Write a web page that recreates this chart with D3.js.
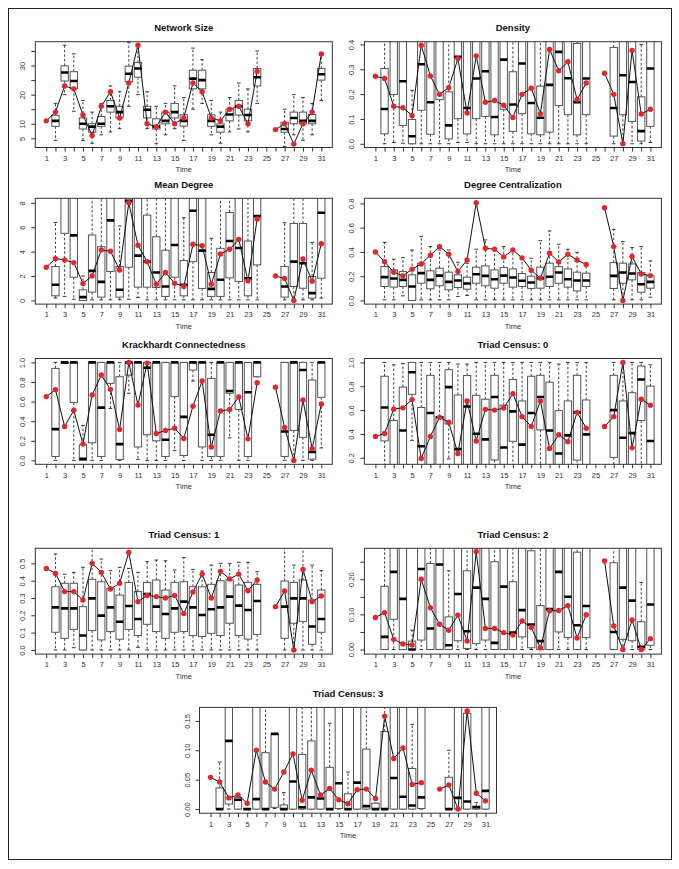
<!DOCTYPE html>
<html><head><meta charset="utf-8">
<script src="https://cdn.jsdelivr.net/npm/d3@7"></script>
<style>body{margin:0;background:#fff}svg{display:block}text{font-family:"Liberation Sans",Arial,Helvetica,sans-serif}</style>
</head><body><svg id="c" width="679" height="869"></svg>
<script>
// ---------- data ----------
const timeTicks = d3.range(1, 32);
const timeLabels = [1,3,5,7,9,11,13,15,17,19,21,23,25,27,29,31];
const boxTimes = [2,3,4,5,6,7,8,9,10,11,12,13,14,15,16,17,18,19,20,21,22,23,24,27,28,29,30,31];
const pointTimes = [1,2,3,4,5,6,7,8,9,10,11,12,13,14,15,16,17,18,19,20,21,22,23,24,26,27,28,29,30,31];

// boxes: [lower whisker, q1, median, q3, upper whisker]
const netSizeBoxes = [[4.3,9.1,11,12.9,17],[20,24.7,27.6,29.9,37],[14.3,22,24.7,27.9,34],[4.3,8.2,10,12,18],[3.3,7.1,9,10,14],[6.2,9.1,10,12.5,17],[7.2,14,16,18,23],[8.3,12,14,16,21],[16,24.4,27.2,29.8,38],[20,26,29,31,37],[8.3,12,14.8,16,21],[3.1,8.2,9,11.7,16],[6.2,10,11,14,17],[8.3,12,14,17,23],[4.3,9.2,11,13.1,19],[15,22,25.5,28.4,36],[17,22,25,28.4,32],[6.2,9.1,11,13.1,18],[3.3,7.1,9,10,14],[7.2,11,13.2,15,19],[8.2,13,16,18,24],[7.2,11,13,15,22],[17,23,26,29,35],[2.2,7.1,8.2,10.5,15],[6.2,10,12,14,20],[4.3,10,11,14,19],[6.2,10,11,13.2,17],[18,25,27,29,34]];
const netSizePoints = [11,14,23,22,13,6,16,21,12,24,37,10,9,14,10,12,24,21,12,11,15,16,10,28,8,10,3,10,14,34];

const densityBoxes = [[0,0.04,0.14,0.303,0.6],[0.005,0.198,0.45,0.5,0.6],[0.002,0.074,0.252,0.5,0.6],[0,0,0.03,0.098,0.215],[0,0.135,0.32,0.5,0.6],[0,0.038,0.167,0.5,0.6],[0,0.178,0.45,0.5,0.6],[0,0.02,0.074,0.209,0.6],[0.005,0.101,0.35,0.5,0.6],[0.005,0.04,0.144,0.5,0.6],[0,0.101,0.263,0.5,0.6],[0,0.11,0.292,0.5,0.6],[0,0.036,0.108,0.5,0.6],[0,0.139,0.339,0.5,0.6],[0,0.05,0.158,0.29,0.6],[0,0.121,0.323,0.5,0.6],[0,0.04,0.164,0.5,0.6],[0,0.036,0.105,0.232,0.6],[0,0.047,0.237,0.5,0.6],[0,0.154,0.37,0.5,0.6],[0,0.117,0.264,0.5,0.6],[0,0.036,0.167,0.404,0.6],[0,0.117,0.263,0.5,0.6],[0,0.031,0.144,0.388,0.6],[0,0.117,0.276,0.5,0.6],[0,0.09,0.249,0.5,0.6],[0,0.011,0.051,0.189,0.4],[0.005,0.07,0.303,0.5,0.6]];
const densityPoints = [0.272,0.263,0.151,0.145,0.114,0.397,0.273,0.199,0.226,0.343,0.124,0.354,0.167,0.174,0.155,0.106,0.199,0.224,0.121,0.38,0.294,0.33,0.178,0.245,0.284,0.199,0,0.376,0.12,0.139];

const meanDegBoxes = [[0.2,0.38,1.28,2.78,6.39],[0.33,5.5,9,10,12],[0.1,1.9,5.33,10,12],[0,0,0.27,0.87,2.0],[0.05,0.68,2.42,5.36,12],[0.05,0.27,1.52,4.41,12],[0.05,2.37,6.56,10,12],[0.05,0.27,0.87,2.78,6.1],[0.1,2.72,8.16,10,12],[0.24,1.09,3.67,10,12],[0.05,1.09,3.18,6.99,12],[0.05,1.06,2.29,5.22,12],[0.05,0.33,1.14,4.11,12],[0.05,1.9,4.54,10,12],[0.05,0.38,1.28,3.27,6.78],[0.05,3.18,7.35,10,12],[0.05,0.98,4.08,10,12],[0.05,0.33,0.95,2.29,5.09],[0.05,0.33,1.69,4.27,12],[0.05,1.85,4.87,7.21,12],[0.05,1.55,4.3,10,12],[0.05,0.38,1.82,4.87,12],[0.05,2.91,6.91,10,12],[0.05,0.27,1.14,2.78,6.37],[0.05,1.14,3.18,6.31,12],[0.05,1.0,3.05,6.31,12],[0.05,0.19,0.6,1.96,4.76],[0.19,1.82,7.18,10,12]];
const meanDegPoints = [2.72,3.43,3.32,3.1,1.39,2.01,4.14,4.03,2.5,8.0,4.52,3.18,1.33,2.29,1.41,1.14,4.6,4.49,1.33,3.81,4.19,5.0,1.6,6.67,2.01,1.8,0,3.4,1.58,4.65];

const degCentBoxes = [[0.005,0.115,0.192,0.279,0.479],[0.005,0.11,0.181,0.252,0.34],[0.038,0.115,0.17,0.238,0.353],[0,0,0.115,0.211,0.416],[0.005,0.142,0.225,0.307,0.526],[0.005,0.096,0.17,0.244,0.444],[0.005,0.121,0.205,0.266,0.416],[0.005,0.088,0.153,0.233,0.416],[0.033,0.107,0.164,0.211,0.315],[0.041,0.093,0.14,0.192,0.307],[0.005,0.142,0.216,0.274,0.422],[0.005,0.121,0.203,0.285,0.499],[0.005,0.101,0.175,0.252,0.43],[0.005,0.142,0.205,0.271,0.444],[0.005,0.11,0.189,0.26,0.422],[0.005,0.115,0.162,0.222,0.362],[0.005,0.099,0.148,0.2,0.348],[0.005,0.101,0.184,0.274,0.493],[0.005,0.115,0.195,0.307,0.573],[0.005,0.142,0.23,0.279,0.463],[0.005,0.11,0.175,0.26,0.422],[0.005,0.079,0.164,0.233,0.397],[0.005,0.115,0.164,0.225,0.307],[0.005,0.099,0.203,0.312,0.586],[0.005,0.142,0.23,0.307,0.485],[0.005,0.17,0.222,0.301,0.436],[0.005,0.068,0.134,0.23,0.444],[0.027,0.101,0.153,0.203,0.326]];
const degCentPoints = [0.40,0.32,0.233,0.203,0.258,0.301,0.373,0.444,0.381,0.238,0.334,0.805,0.43,0.422,0.359,0.416,0.351,0.249,0.184,0.389,0.318,0.381,0.334,0.296,0.764,0.444,0,0.362,0.219,0.205];

const krackBoxes = [[0,0.04,0.319,0.939,1],[0.99,0.99,1,1,1],[0,0.59,1,1,1],[0,0,0.017,0.16,0.357],[0,0.18,1,1,1],[0,0.04,0.539,1,1],[0.53,0.786,1,1,1],[0,0.01,0.166,0.854,1],[0.685,0.871,1,1,1],[0.01,0.137,1,1,1],[0,0.262,0.946,1,1],[0,0.2,1,1,1],[0,0.04,0.21,1,1],[0.1,0.651,1,1,1],[0,0.05,0.444,1,1],[0.81,0.922,1,1,1],[0,0.137,1,1,1],[0,0.04,0.261,0.837,1],[0,0.04,1,1,1],[0.23,0.685,0.708,1,1],[0,0.52,1,1,1],[0,0.04,0.695,1,1],[0.854,0.854,1,1,1],[0,0.04,0.295,1,1],[0,0.306,1,1,1],[0,0.235,0.922,1,1],[0,0.013,0.086,0.82,1],[0.127,0.644,1,1,1]];
const krackPoints = [0.651,0.722,0.346,0.512,0.166,0.668,0.871,0.725,0.315,1.0,0.566,0.993,0.275,0.305,0.329,0.224,0.553,0.81,0.136,0.505,0.519,0.647,0.22,0.793,0.746,0.336,0,0.617,0.119,0.576];

const triad0Boxes = [[0.1,0.341,0.622,0.884,1],[0,0.08,0.12,0.512,0.98],[0,0.1,0.429,0.793,0.99],[0.346,0.732,0.917,1,1],[0,0.1,0.297,0.622,1],[0,0.1,0.575,0.892,1],[0,0.1,0.54,0.545,1],[0.19,0.484,0.793,0.939,1],[0,0.1,0.272,0.727,0.986],[0,0.1,0.63,0.89,0.986],[0,0.1,0.401,0.724,1],[0,0.1,0.354,0.691,1],[0.1,0.181,0.71,0.892,1],[0,0.1,0.286,0.641,1],[0.1,0.338,0.589,0.857,1],[0,0.1,0.31,0.677,1],[0,0.1,0.575,0.884,1],[0.1,0.434,0.71,0.892,1],[0,0.1,0.429,0.834,1],[0,0.1,0.236,0.595,0.986],[0,0.1,0.388,0.677,1],[0.1,0.18,0.581,0.892,1],[0,0.1,0.396,0.685,1],[0.1,0.203,0.6,0.892,1],[0,0.1,0.368,0.677,1],[0,0.1,0.407,0.746,1],[0.1,0.512,0.857,0.97,1],[0,0.1,0.341,0.801,0.98]];
const triad0Points = [0.379,0.404,0.608,0.619,0.688,0.194,0.379,0.539,0.498,0.236,0.677,0.341,0.606,0.6,0.617,0.738,0.545,0.462,0.677,0.277,0.393,0.335,0.581,0.448,0.462,0.545,1.0,0.283,0.691,0.641];

const triad1Boxes = [[0,0.102,0.246,0.365,0.554],[0,0.067,0.24,0.385,0.437],[0.013,0.119,0.24,0.385,0.448],[0,0,0.083,0.25,0.477],[0,0.112,0.298,0.408,0.6],[0,0.058,0.198,0.394,0.525],[0,0.106,0.246,0.356,0.458],[0,0.062,0.163,0.317,0.477],[0,0.119,0.254,0.39,0.471],[0.015,0.083,0.179,0.337,0.448],[0,0.148,0.323,0.39,0.51],[0,0.106,0.25,0.404,0.519],[0,0.067,0.208,0.346,0.515],[0,0.102,0.24,0.39,0.462],[0,0.106,0.279,0.394,0.533],[0,0.083,0.246,0.365,0.465],[0,0.077,0.202,0.365,0.456],[0,0.096,0.235,0.379,0.49],[0,0.083,0.246,0.4,0.5],[0,0.154,0.308,0.404,0.5],[0,0.083,0.256,0.375,0.506],[0,0.063,0.231,0.39,0.506],[0,0.09,0.283,0.379,0.452],[0,0.067,0.25,0.398,0.6],[0,0.154,0.298,0.39,0.49],[0,0.165,0.298,0.404,0.6],[0,0.033,0.135,0.288,0.49],[0,0.102,0.179,0.346,0.458]];
const triad1Points = [0.471,0.442,0.337,0.337,0.288,0.5,0.448,0.352,0.385,0.563,0.279,0.315,0.308,0.3,0.315,0.21,0.335,0.438,0.3,0.454,0.41,0.438,0.342,0.404,0.25,0.34,0,0.465,0.279,0.312];

const triad2Boxes = [[0,0,0.036,0.18,0.4],[0,0.086,0.221,0.35,0.4],[0,0,0.144,0.35,0.4],[0,0,0,0.024,0.055],[0,0.027,0.229,0.35,0.4],[0,0,0.06,0.245,0.4],[0,0,0.242,0.35,0.4],[0,0,0.012,0.093,0.224],[0,0.025,0.158,0.35,0.4],[0,0.003,0.052,0.224,0.4],[0,0.017,0.176,0.35,0.4],[0,0.027,0.144,0.35,0.4],[0,0,0.019,0.25,0.4],[0,0,0.179,0.35,0.4],[0,0,0.048,0.193,0.4],[0,0.036,0.112,0.35,0.4],[0,0.005,0.071,0.281,0.4],[0,0,0.024,0.125,0.4],[0,0,0.115,0.35,0.4],[0,0.05,0.221,0.35,0.4],[0,0.034,0.15,0.35,0.4],[0,0,0.069,0.277,0.4],[0,0.034,0.124,0.35,0.4],[0,0,0.05,0.247,0.4],[0,0.029,0.176,0.35,0.4],[0,0.025,0.139,0.35,0.4],[0,0,0.008,0.079,0.191],[0,0.012,0.128,0.35,0.4]];
const triad2Points = [0.091,0.105,0.029,0.016,0.013,0.2,0.119,0.072,0.055,0.098,0.024,0.279,0.06,0.06,0.048,0.041,0.081,0.063,0.005,0.11,0.111,0.125,0.033,0.099,0.252,0.067,0,0.084,0,0.031];

const triad3Boxes = [[0,0,0,0.036,0.08],[0,0.0086,0.116,0.2,0.25],[0,0,0.016,0.02,0.02],[0,0,0,0.001,0.001],[0,0,0.017,0.2,0.25],[0,0,0,0.096,0.25],[0.001,0.003,0.128,0.128,0.128],[0,0,0,0.007,0.028],[0,0,0.047,0.2,0.25],[0,0,0.003,0.093,0.25],[0,0,0.02,0.116,0.25],[0,0,0.018,0.2,0.25],[0,0,0,0.071,0.146],[0,0.001,0.044,0.2,0.25],[0,0,0,0.026,0.063],[0,0,0.045,0.2,0.25],[0,0,0.005,0.102,0.25],[0,0,0,0.01,0.01],[0,0,0,0.132,0.25],[0,0,0.053,0.2,0.25],[0,0,0.021,0.2,0.25],[0,0,0.006,0.069,0.144],[0,0.001,0.02,0.2,0.25],[0,0,0,0.054,0.1],[0,0,0.019,0.2,0.25],[0,0,0.013,0.163,0.25],[0,0,0.003,0.005,0.011],[0,0,0.031,0.2,0.25]];
const triad3Points = [0.054,0.046,0.019,0.024,0.01,0.1,0.046,0.034,0.063,0.094,0.015,0.066,0.024,0.035,0.016,0.009,0.033,0.034,0.018,0.158,0.086,0.104,0.042,0.045,0.034,0.041,0,0.167,0.027,0.014];

// y axis ranges, ticks and tick labels
const netSizeY = [1.84, 38.2], netSizeTicks = [5,10,15,20,25,30,35], netSizeLabels = ["5","10","","20","","30",""];
const densityY = [-0.015, 0.411], densityTicks = [0,0.1,0.2,0.3,0.4], densityLabels = ["0.0","0.1","0.2","0.3","0.4"];
const meanDegY = [-0.3, 8.37], meanDegTicks = [0,2,4,6,8], meanDegLabels = ["0","2","4","6","8"];
const degCentY = [-0.03, 0.842], degCentTicks = [0,0.2,0.4,0.6,0.8], degCentLabels = ["0.0","0.2","0.4","0.6","0.8"];
const krackY = [-0.04, 1.04], krackTicks = [0,0.2,0.4,0.6,0.8,1], krackLabels = ["0.0","0.2","0.4","0.6","0.8","1.0"];
const triad0Y = [0.145, 1.033], triad0Ticks = [0.2,0.4,0.6,0.8,1], triad0Labels = ["0.2","0.4","0.6","0.8","1.0"];
const triad1Y = [-0.024, 0.587], triad1Ticks = [0,0.1,0.2,0.3,0.4,0.5], triad1Labels = ["0.0","0.1","0.2","0.3","0.4","0.5"];
const triad2Y = [-0.013, 0.288], triad2Ticks = [0,0.05,0.1,0.15,0.2,0.25], triad2Labels = ["0.00","","0.10","","0.20",""];
const triad3Y = [-0.007, 0.173], triad3Ticks = [0,0.05,0.1,0.15], triad3Labels = ["0.00","0.05","0.10","0.15"];

const titles = ["Network Size","Density","Mean Degree","Degree Centralization","Krackhardt Connectedness","Triad Census: 0","Triad Census: 1","Triad Census: 2","Triad Census: 3"];

// ---------- drawing ----------
const panels = [
  {boxes: netSizeBoxes, points: netSizePoints, y: netSizeY, ticks: netSizeTicks, labels: netSizeLabels, pos:[35.3,41.7]},
  {boxes: densityBoxes, points: densityPoints, y: densityY, ticks: densityTicks, labels: densityLabels, pos:[364.4,41.7]},
  {boxes: meanDegBoxes, points: meanDegPoints, y: meanDegY, ticks: meanDegTicks, labels: meanDegLabels, pos:[35.3,198.3]},
  {boxes: degCentBoxes, points: degCentPoints, y: degCentY, ticks: degCentTicks, labels: degCentLabels, pos:[364.4,198.3]},
  {boxes: krackBoxes, points: krackPoints, y: krackY, ticks: krackTicks, labels: krackLabels, pos:[35.3,358.5]},
  {boxes: triad0Boxes, points: triad0Points, y: triad0Y, ticks: triad0Ticks, labels: triad0Labels, pos:[364.4,358.5]},
  {boxes: triad1Boxes, points: triad1Points, y: triad1Y, ticks: triad1Ticks, labels: triad1Labels, pos:[35.3,548.3]},
  {boxes: triad2Boxes, points: triad2Points, y: triad2Y, ticks: triad2Ticks, labels: triad2Labels, pos:[364.4,548.3]},
  {boxes: triad3Boxes, points: triad3Points, y: triad3Y, ticks: triad3Ticks, labels: triad3Labels, pos:[199.5,707.4]}
];

const svg = d3.select("#c");
svg.append("rect").attr("x",8.5).attr("y",8.5).attr("width",663).attr("height",851)
  .attr("fill","none").attr("stroke","#222").attr("stroke-width",1);

const W = 297, H = 105.8;
const RED = "#e3262b";

panels.forEach((p, k) => {
  const g = svg.append("g").attr("transform", `translate(${p.pos[0]},${p.pos[1]})`);
  const xs = d3.scaleLinear().domain([-0.2, 32.2]).range([0, W]);
  const ys = d3.scaleLinear().domain(p.y).range([H, 0]);
  const id = "clip" + k;
  g.append("clipPath").attr("id", id).append("rect").attr("width", W).attr("height", H);
  const body = g.append("g").attr("clip-path", `url(#${id})`);
  const hw = (xs(0.4) - xs(0));
  const cw = (xs(0.2) - xs(0));

  p.boxes.forEach((b, i) => {
    const t = boxTimes[i];
    const cx = xs(t);
    const [lo, q1, med, q3, hi] = b;
    const bg = body.append("g");
    bg.append("line").attr("x1",cx).attr("x2",cx).attr("y1",ys(q3)).attr("y2",ys(hi))
      .attr("stroke","#111").attr("stroke-width",0.8).attr("stroke-dasharray","2.5,2");
    bg.append("line").attr("x1",cx).attr("x2",cx).attr("y1",ys(q1)).attr("y2",ys(lo))
      .attr("stroke","#111").attr("stroke-width",0.8).attr("stroke-dasharray","2.5,2");
    bg.append("line").attr("x1",cx-cw).attr("x2",cx+cw).attr("y1",ys(hi)).attr("y2",ys(hi))
      .attr("stroke","#222").attr("stroke-width",0.9);
    bg.append("line").attr("x1",cx-cw).attr("x2",cx+cw).attr("y1",ys(lo)).attr("y2",ys(lo))
      .attr("stroke","#222").attr("stroke-width",0.9);
    bg.append("rect").attr("x",cx-hw).attr("width",2*hw)
      .attr("y",ys(q3)).attr("height",Math.max(0, ys(q1)-ys(q3)))
      .attr("fill","#fff").attr("stroke","#555").attr("stroke-width",1);
    bg.append("line").attr("x1",cx-hw).attr("x2",cx+hw).attr("y1",ys(med)).attr("y2",ys(med))
      .attr("stroke","#000").attr("stroke-width",2.6);
  });

  const series = timeTicks.map(t => {
    const j = pointTimes.indexOf(t);
    return {t, v: j < 0 ? null : p.points[j]};
  });
  body.append("path").datum(series)
    .attr("d", d3.line().defined(d => d.v != null).x(d => xs(d.t)).y(d => ys(d.v)))
    .attr("fill","none").attr("stroke","#111").attr("stroke-width",1);
  body.selectAll("circle.pt").data(series.filter(d => d.v != null)).join("circle")
    .attr("class","pt").attr("cx", d => xs(d.t)).attr("cy", d => ys(d.v)).attr("r", 2.7)
    .attr("fill", RED);

  // frame
  g.append("rect").attr("width",W).attr("height",H).attr("fill","none")
    .attr("stroke","#333").attr("stroke-width",1);

  // x axis
  const xa = g.append("g").attr("transform",`translate(0,${H})`)
    .call(d3.axisBottom(xs).tickValues(timeTicks).tickSize(4).tickPadding(4)
      .tickFormat(d => timeLabels.includes(d) ? String(d) : ""));
  xa.select(".domain").remove();
  xa.selectAll("line").attr("stroke","#333");
  xa.selectAll("text").attr("font-size",7.5).attr("fill","#333")
    .style("font-family","'Liberation Sans',Arial,sans-serif");

  // y axis
  const ya = g.append("g")
    .call(d3.axisLeft(ys).tickValues(p.ticks).tickSize(4)
      .tickFormat((d, i) => p.labels[i]));
  ya.select(".domain").remove();
  ya.selectAll("line").attr("stroke","#333");
  ya.selectAll("text").attr("x",0).attr("dy",0).attr("text-anchor","middle")
    .attr("transform","translate(-10,0) rotate(-90)")
    .attr("font-size",7.5).attr("fill","#333")
    .style("font-family","'Liberation Sans',Arial,sans-serif");

  g.append("text").attr("x",W/2).attr("y",-14).attr("dy","0.35em").attr("text-anchor","middle")
    .attr("font-size",9.5).attr("font-weight","bold").attr("fill","#111").text(titles[k]);
  g.append("text").attr("x",W/2).attr("y",H+22).attr("dy","0.35em").attr("text-anchor","middle")
    .attr("font-size",7.5).attr("fill","#333").text("Time");
});
</script>
</body></html>
